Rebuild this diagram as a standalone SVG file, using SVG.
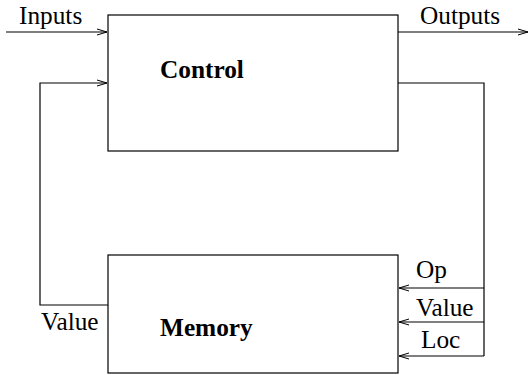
<svg xmlns="http://www.w3.org/2000/svg" width="529" height="375" viewBox="0 0 529 375">
<style>
.box{fill:none;stroke:#000;stroke-width:1.2}
.ln{fill:none;stroke:#000;stroke-width:1.2}
.ar{marker-end:url(#a)}
text{font-family:"Liberation Serif","Times New Roman",serif;font-size:25.3px;fill:#000}
.b{font-weight:bold}
</style>
<defs>
<marker id="a" markerWidth="12" markerHeight="10" refX="10" refY="4" orient="auto" markerUnits="userSpaceOnUse">
<path d="M0,1 L10,4 L0,7" fill="none" stroke="#000" stroke-width="1"/>
</marker>
</defs>
<g id="control">
<rect class="box" x="108" y="15" width="290" height="136"/>
<text class="b" x="160" y="78">Control</text>
</g>
<g id="memory">
<rect class="box" x="108" y="255" width="290" height="118"/>
<text class="b" x="160" y="336">Memory</text>
</g>
<g id="connectors">
<path class="ln ar" d="M6,32 H107"/>
<path class="ln ar" d="M108,305 H40 V83 H107"/>
<path class="ln ar" d="M398,32 H528"/>
<path class="ln" d="M398,83 H484 V356"/>
<path class="ln ar" d="M484,288 H399"/>
<path class="ln ar" d="M484,322 H399"/>
<path class="ln ar" d="M484,356 H399"/>
<text x="19" y="24">Inputs</text>
<text x="420" y="24">Outputs</text>
<text x="41" y="330">Value</text>
<text x="416" y="278">Op</text>
<text x="416" y="316">Value</text>
<text x="421" y="348">Loc</text>
</g>
</svg>
